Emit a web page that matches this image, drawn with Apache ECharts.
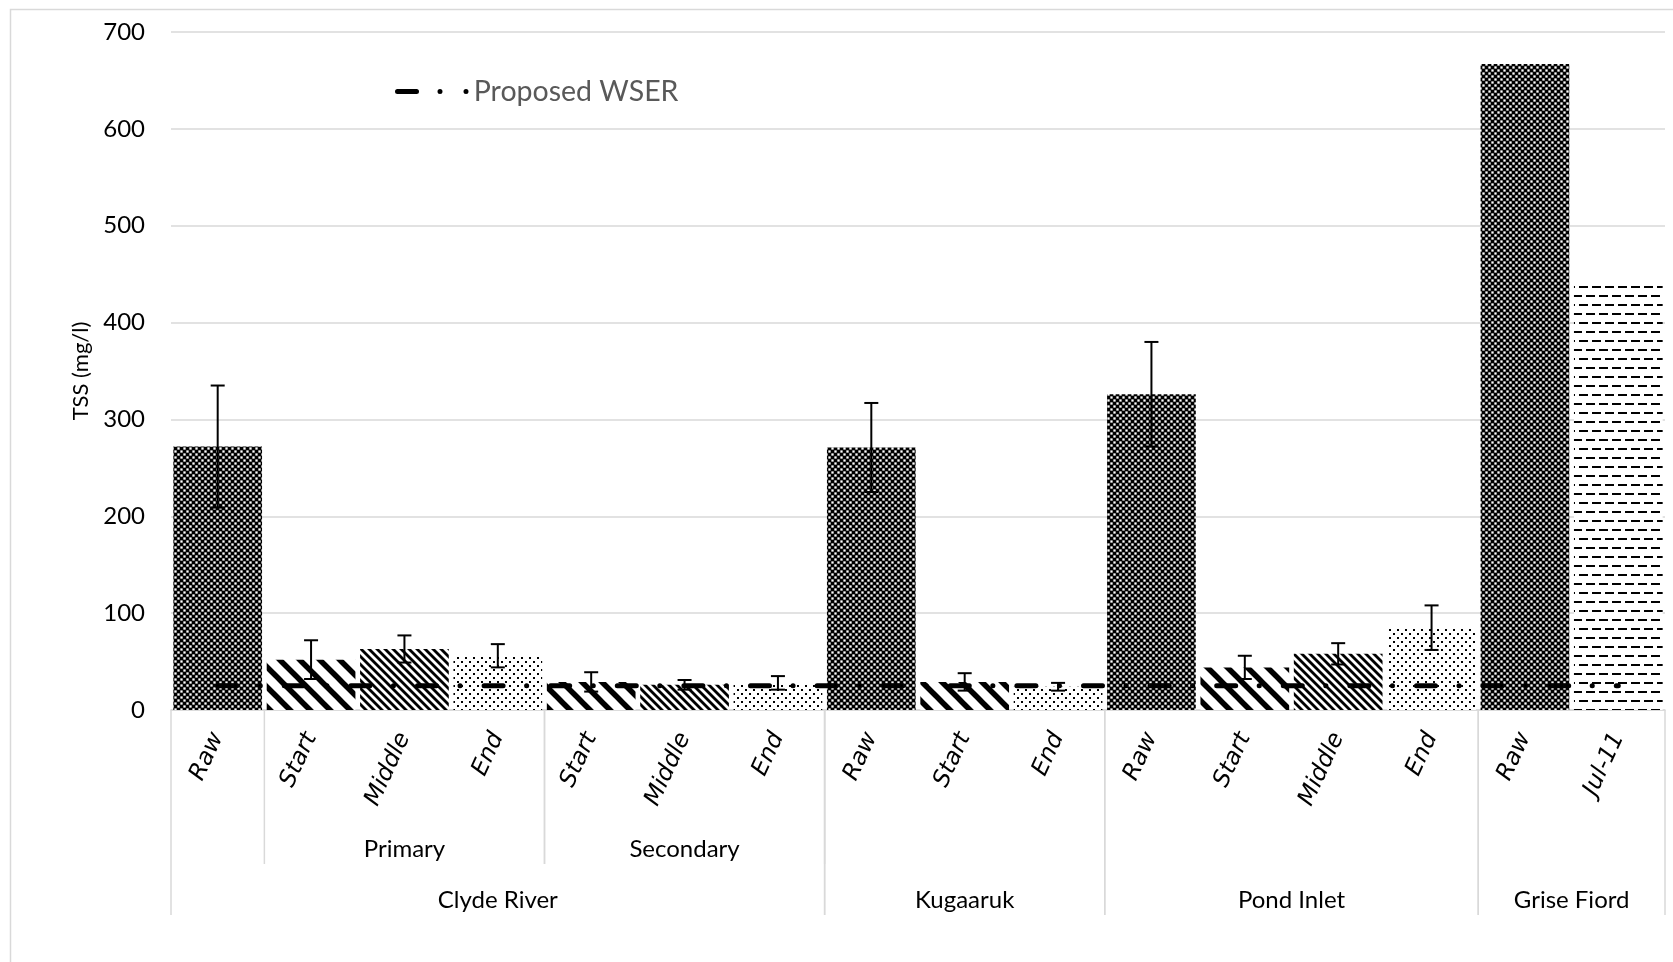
<!DOCTYPE html>
<html>
<head>
<meta charset="utf-8">
<title>TSS</title>
<script src="https://cdn.jsdelivr.net/npm/echarts@6/dist/echarts.min.js"></script>
<style>
  html, body { margin: 0; padding: 0; background: #fff; }
  #chart { width: 1673px; height: 962px; }
</style>
</head>
<body>
<div id="chart"></div>
<script>
// bottom level categories
var categories = ['Raw', 'Start', 'Middle', 'End', 'Start', 'Middle', 'End', 'Raw', 'Start', 'End', 'Raw', 'Start', 'Middle', 'End', 'Raw', 'Jul-11'];
// TSS mean (mg/l) and error (+/-)
var tssMean = [272, 52, 63, 56, 29, 26, 28, 271, 29, 24, 326, 44, 58, 85, 667, 438];
var tssErr = [63, 20, 14, 12, 10, 5, 7, 46, 9, 4, 54, 12, 11, 23, null, null];
// proposed WSER limit
var wserLimit = [25, 25, 25, 25, 25, 25, 25, 25, 25, 25, 25, 25, 25, 25, 25, 25];
// grouping levels (category index from..to)
var stageNames = ['Primary', 'Secondary'];
var stageSpans = [[1, 3], [4, 6]];
var siteNames = ['Clyde River', 'Kugaaruk', 'Pond Inlet', 'Grise Fiord'];
var siteSpans = [[0, 6], [7, 9], [10, 13], [14, 15]];
var yTicks = { min: 0, max: 700, interval: 100 };

function tile(w, h, draw) {
  var c = document.createElement('canvas');
  c.width = w; c.height = h;
  var ctx = c.getContext('2d');
  ctx.fillStyle = '#fff';
  ctx.fillRect(0, 0, w, h);
  ctx.fillStyle = '#000';
  ctx.strokeStyle = '#000';
  draw(ctx, w, h);
  return { image: c, repeat: 'repeat' };
}
function diag(ctx, size, lw) {
  ctx.lineWidth = lw;
  for (var k = -1; k <= 1; k++) {
    ctx.beginPath();
    ctx.moveTo(k * size - 4, -4);
    ctx.lineTo(k * size + size + 4, size + 4);
    ctx.stroke();
  }
}
var patterns = {
  'Raw': tile(6, 6, function (ctx) {
    ctx.fillRect(0, 0, 6, 6);
    ctx.fillStyle = '#fff';
    ctx.fillRect(0.35, 0.35, 2.3, 2.3); ctx.fillRect(3.35, 3.35, 2.3, 2.3);
  }),
  'Start': tile(20, 20, function (ctx) { diag(ctx, 20, 5.5); }),
  'Middle': tile(8, 8, function (ctx) { diag(ctx, 8, 2.8); }),
  'End': tile(8, 8, function (ctx) {
    ctx.fillRect(1, 1, 2, 2); ctx.fillRect(5, 5, 2, 2);
  }),
  'Jul-11': tile(26, 18, function (ctx) {
    ctx.fillRect(0, 7, 9, 2); ctx.fillRect(13, 7, 9, 2);
    ctx.fillRect(6, 16, 9, 2); ctx.fillRect(19, 16, 7, 2); ctx.fillRect(0, 16, 2, 2);
  })
};

var barData = tssMean.map(function (v, i) {
  return { value: v, itemStyle: { color: patterns[categories[i]] } };
});
var errData = [];
tssMean.forEach(function (v, i) {
  if (tssErr[i] != null) errData.push([i, v - tssErr[i], v + tssErr[i]]);
});

function groupSeries(name, names, spans, lineLen, labelGap) {
  return {
    name: name,
    type: 'custom',
    silent: true,
    clip: false,
    z: 1,
    encode: { x: [0, 1], y: 2 },
    data: spans.map(function (s) { return [s[0], s[1], 0]; }),
    renderItem: function (params, api) {
      var band = api.size([1, 0])[0];
      var p0 = api.coord([api.value(0), 0]);
      var p1 = api.coord([api.value(1), 0]);
      var x0 = p0[0] - band / 2, x1 = p1[0] + band / 2, y = p0[1];
      var lineStyle = { stroke: '#d9d9d9', lineWidth: 1.5 };
      return {
        type: 'group',
        children: [
          { type: 'line', shape: { x1: x0, y1: y, x2: x0, y2: y + lineLen }, style: lineStyle },
          { type: 'line', shape: { x1: x1, y1: y, x2: x1, y2: y + lineLen }, style: lineStyle },
          {
            type: 'text',
            style: {
              text: names[params.dataIndex], x: (x0 + x1) / 2, y: y + labelGap,
              align: 'center', verticalAlign: 'middle',
              fontSize: 24, fontFamily: 'Lato', fill: '#000'
            }
          }
        ]
      };
    }
  };
}

// legend mark: long dash, dot, dot
var legendIcon = 'path://M2.5,0 L21.5,0 A2.5,2.5 0 0 1 21.5,5 L2.5,5 A2.5,2.5 0 0 1 2.5,0 Z ' +
  'M45,0 A2.5,2.5 0 1 1 45,5 A2.5,2.5 0 1 1 45,0 Z ' +
  'M71,0 A2.5,2.5 0 1 1 71,5 A2.5,2.5 0 1 1 71,0 Z';

var chart = echarts.init(document.getElementById('chart'));
var option = {
  animation: false,
  backgroundColor: '#fff',
  textStyle: { fontFamily: 'Lato' },
  graphic: [{
    type: 'rect', left: 8, top: 7, silent: true,
    shape: { width: 1700, height: 1000 },
    style: { fill: 'none', stroke: '#d9d9d9', lineWidth: 1.5 }
  }],
  grid: { left: 171, right: 8, top: 32, bottom: 252 },
  legend: {
    data: [{ name: 'Proposed WSER', icon: legendIcon }],
    left: 395, top: 77, padding: 0,
    itemWidth: 74, itemHeight: 5,
    itemStyle: { color: '#000', borderWidth: 0 },
    textStyle: { fontSize: 28.5, color: '#595959', fontFamily: 'Lato' }
  },
  xAxis: {
    type: 'category',
    data: categories,
    axisTick: { show: false },
    axisLine: { lineStyle: { color: '#d9d9d9', width: 1.5 } },
    axisLabel: {
      interval: 0, rotate: 65, margin: 24,
      fontStyle: 'italic', fontFamily: '"DejaVu Sans"', fontSize: 23.5, color: '#000'
    }
  },
  yAxis: {
    type: 'value',
    min: yTicks.min, max: yTicks.max, interval: yTicks.interval,
    name: 'TSS (mg/l)',
    nameLocation: 'middle', nameGap: 76,
    nameTextStyle: { fontSize: 22, color: '#000', fontFamily: 'Lato' },
    axisLine: { show: false },
    axisTick: { show: false },
    axisLabel: { fontSize: 24, color: '#000', margin: 26, fontFamily: 'Lato' },
    splitLine: { lineStyle: { color: '#d9d9d9', width: 1.5 } }
  },
  series: [
    {
      name: 'TSS',
      type: 'bar',
      barCategoryGap: '5%',
      z: 2,
      data: barData
    },
    {
      name: 'Proposed WSER',
      type: 'line',
      symbol: 'none',
      z: 3,
      lineStyle: { color: '#000', width: 5, type: [19, 23.5, 0.1, 24], cap: 'round' },
      itemStyle: { color: '#000' },
      data: wserLimit
    },
    {
      name: 'error',
      type: 'custom',
      z: 4,
      silent: true,
      encode: { x: 0, y: [1, 2] },
      data: errData,
      renderItem: function (params, api) {
        var lo = api.coord([api.value(0), api.value(1)]);
        var hi = api.coord([api.value(0), api.value(2)]);
        var cap = 7;
        var st = { stroke: '#000', lineWidth: 2 };
        return {
          type: 'group',
          children: [
            { type: 'line', shape: { x1: hi[0], y1: hi[1], x2: lo[0], y2: lo[1] }, style: st },
            { type: 'line', shape: { x1: hi[0] - cap, y1: hi[1], x2: hi[0] + cap, y2: hi[1] }, style: st },
            { type: 'line', shape: { x1: lo[0] - cap, y1: lo[1], x2: lo[0] + cap, y2: lo[1] }, style: st }
          ]
        };
      }
    },
    groupSeries('stage', stageNames, stageSpans, 154, 139),
    groupSeries('site', siteNames, siteSpans, 205, 190)
  ]
};
chart.setOption(option);
window.addEventListener('resize', function () {
  chart.resize();
});
</script>
</body>
</html>
